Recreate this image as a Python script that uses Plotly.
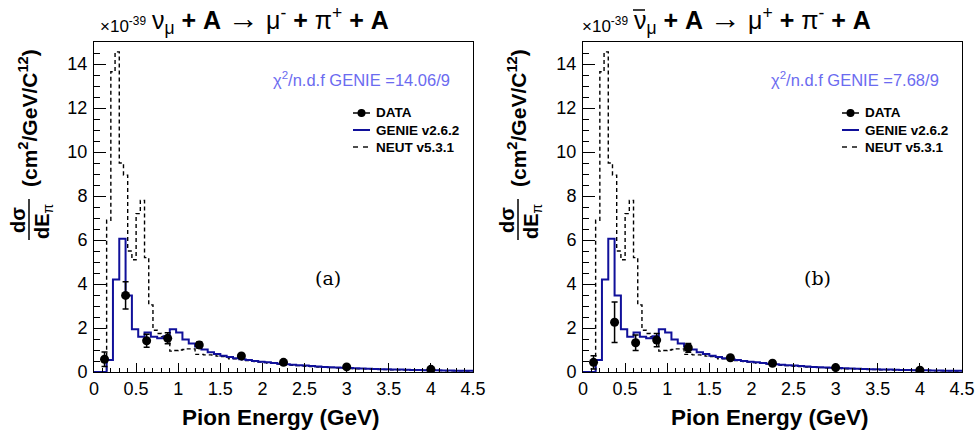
import plotly.graph_objects as go

# ---------------- data ----------------
# GENIE v2.6.2 prediction, 0.075 GeV bins from 0 to 4.5 GeV (units of 1e-39 cm^2/GeV/C^12)
genie_width = 0.075
genie_vals = [
    0.0, 0.0, 0.55, 4.2, 6.06, 3.48, 1.94, 1.6, 1.8, 1.6,
    1.53, 1.63, 1.94, 1.8, 1.48, 1.3, 1.16, 1.02, 0.9, 0.82,
    0.74, 0.68, 0.63, 0.58, 0.54, 0.5, 0.47, 0.44, 0.41, 0.38,
    0.35, 0.33, 0.31, 0.29, 0.27, 0.25, 0.23, 0.22, 0.2, 0.19,
    0.18, 0.17, 0.16, 0.15, 0.14, 0.13, 0.12, 0.115, 0.11, 0.1,
    0.095, 0.09, 0.085, 0.08, 0.075, 0.07, 0.065, 0.06, 0.058, 0.055,
]

# NEUT v5.3.1 prediction, 0.05 GeV bins from 0 to 4.5 GeV
neut_width = 0.05
neut_vals = [
    0.0, 0.0, 0.0, 6.9, 13.65, 14.55, 9.5, 8.95, 5.5, 5.1,
    7.2, 7.8, 5.2, 3.05, 1.9, 1.75, 1.6, 1.5, 0.95, 0.98,
    1.0, 1.02, 1.05, 1.05, 0.8, 0.8, 0.78, 0.78, 0.77, 0.72,
    0.7, 0.66, 0.6, 0.6, 0.58, 0.56, 0.52, 0.5, 0.47, 0.45,
    0.43, 0.41, 0.39, 0.37, 0.35, 0.33, 0.32, 0.3, 0.29, 0.27,
    0.26, 0.25, 0.24, 0.23, 0.22, 0.21, 0.2, 0.19, 0.18, 0.175,
    0.165, 0.16, 0.15, 0.145, 0.14, 0.13, 0.125, 0.12, 0.115, 0.11,
    0.105, 0.1, 0.095, 0.09, 0.088, 0.085, 0.08, 0.078, 0.075, 0.07,
    0.068, 0.065, 0.062, 0.06, 0.058, 0.055, 0.053, 0.05, 0.048, 0.046,
]

# Measured points (bin centres in GeV)
data_e = [0.125, 0.375, 0.625, 0.875, 1.25, 1.75, 2.25, 3.0, 4.0]
nu_vals = [0.58, 3.48, 1.42, 1.53, 1.23, 0.73, 0.44, 0.23, 0.12]
nu_errs = [0.33, 0.62, 0.30, 0.25, 0.15, 0.06, 0.04, 0.02, 0.02]
nubar_vals = [0.44, 2.26, 1.33, 1.45, 1.10, 0.65, 0.40, 0.20, 0.08]
nubar_errs = [0.30, 0.92, 0.35, 0.30, 0.20, 0.07, 0.05, 0.03, 0.02]

chi2_labels = ["14.06/9", "7.68/9"]
panel_tags = ["(a)", "(b)"]
legend_names = ["DATA", "GENIE v2.6.2", "NEUT v5.3.1"]
ARROW = "<span style='font-size:31px'>→</span>"
titles = [
    "ν<sub>μ</sub> <b>+ A</b> " + ARROW + " μ<sup>-</sup> <b>+</b> π<sup>+</sup> <b>+ A</b>",
    "ν<sub>μ</sub> <b>+ A</b> " + ARROW + " μ<sup>+</sup> <b>+</b> π<sup>-</sup> <b>+ A</b>",
]

W, H = 977, 436
FONT = "Liberation Sans, Arial, Helvetica, sans-serif"
GENIE_COLOR = "#10109a"
CHI_COLOR = "#6b6bf0"


def step_xy(width, vals):
    xs = [round(i * width, 6) for i in range(len(vals) + 1)]
    ys = list(vals) + [vals[-1]]
    return xs, ys


def px(x):
    return x / W


def py(y):
    return 1 - y / H


fig = go.Figure()

panels = [
    dict(xa="x", ya="y", vals=nu_vals, errs=nu_errs, off=0),
    dict(xa="x2", ya="y2", vals=nubar_vals, errs=nubar_errs, off=489),
]

for p in panels:
    gx, gy = step_xy(genie_width, genie_vals)
    nx, ny = step_xy(neut_width, neut_vals)
    fig.add_trace(go.Scatter(
        x=nx, y=ny, mode="lines", line=dict(color="black", width=1.4, dash="4px,3px", shape="hv"),
        name=legend_names[2], xaxis=p["xa"], yaxis=p["ya"], hoverinfo="skip"))
    fig.add_trace(go.Scatter(
        x=gx, y=gy, mode="lines", line=dict(color=GENIE_COLOR, width=2, shape="hv"),
        name=legend_names[1], xaxis=p["xa"], yaxis=p["ya"], hoverinfo="skip"))
    fig.add_trace(go.Scatter(
        x=data_e, y=p["vals"], mode="markers",
        marker=dict(color="black", size=9, symbol="circle"),
        error_y=dict(type="data", array=p["errs"], color="black", thickness=1.5, width=3),
        name=legend_names[0], xaxis=p["xa"], yaxis=p["ya"]))

axis_common = dict(
    showgrid=False, zeroline=False, showline=True, mirror=True, automargin=False,
    linecolor="black", linewidth=1, ticks="inside", tickcolor="black",
    tickfont=dict(family=FONT, size=18, color="black"),
)

xdoms = [[px(94), px(473)], [px(583), px(962)]]
ydom = [py(372), py(42)]

for i, key in enumerate(["", "2"]):
    fig.update_layout(**{
        "xaxis" + key: dict(
            domain=xdoms[i], range=[0, 4.5], anchor="y" + key,
            tick0=0, dtick=0.5, ticklen=9, tickwidth=1,
            minor=dict(dtick=0.1, ticks="inside", ticklen=4.5, tickcolor="black"),
            **axis_common),
        "yaxis" + key: dict(
            domain=ydom, range=[0, 15], anchor="x" + key,
            tick0=0, dtick=2, ticklen=12, tickwidth=1, ticklabelstandoff=2,
            minor=dict(dtick=0.5, ticks="inside", ticklen=6, tickcolor="black"),
            **axis_common),
    })

# left edge of the neutrino symbol in each title
nu_left = [150, 632]

annotations = []
shapes = []


def text(t, x, y, size, xanchor="center", color="black", family=FONT, angle=0, yanchor="middle"):
    annotations.append(dict(
        text=t, x=px(x), y=py(y), xref="paper", yref="paper", textangle=angle,
        xanchor=xanchor, yanchor=yanchor, showarrow=False,
        font=dict(family=family, size=size, color=color)))


def seg(x0, y0, x1, y1, color="black", width=1.5, dash="solid"):
    shapes.append(dict(
        type="line", xref="paper", yref="paper",
        x0=px(x0), x1=px(x1), y0=py(y0), y1=py(y1),
        line=dict(color=color, width=width, dash=dash)))


for i, p in enumerate(panels):
    o = p["off"]
    # exponent of the y scale and reaction title
    text("×10<sup>-39</sup>", nu_left[i] - 2, 38, 17, xanchor="right", yanchor="bottom")
    text(titles[i], nu_left[i], 20, 25, xanchor="left")
    # chi2 label
    text("χ<sup>2</sup>/n.d.f GENIE =" + chi2_labels[i], 452 + o, 79, 16.5,
         xanchor="right", color=CHI_COLOR)
    # panel tag
    text(panel_tags[i], 328 + o, 278, 19, family="DejaVu Serif, Liberation Serif, serif")
    # x-axis title
    text("<b>Pion Energy (GeV)</b>", 281 + o, 417, 22.5)
    # y-axis title: units and d sigma / dE_pi fraction
    text("<b>(cm<sup>2</sup>/GeV/C<sup>12</sup>)</b>", 28 + o, 118, 21, angle=-90)
    text("<b>dσ</b>", 18 + o, 220, 20, angle=-90)
    text("<b>dE</b><sub>π</sub>", 43 + o, 221, 20, angle=-90)
    seg(29 + o, 240, 29 + o, 199)

    # legend box
    lx0, lx1 = 353 + o, 370 + o
    rows = [113, 130, 147]
    seg(lx0, rows[0], lx1, rows[0], width=1.5)
    seg((lx0 + lx1) / 2, rows[0] - 4, (lx0 + lx1) / 2, rows[0] + 4, width=1.5)
    shapes.append(dict(
        type="circle", xref="paper", yref="paper",
        x0=px(357.5 + o), x1=px(365.5 + o), y0=py(rows[0] + 4), y1=py(rows[0] - 4),
        fillcolor="black", line=dict(color="black", width=0)))
    seg(lx0, rows[1], lx1, rows[1], color=GENIE_COLOR, width=2)
    seg(lx0, rows[2], lx0 + 5, rows[2], width=1.4)
    seg(lx0 + 10, rows[2], lx0 + 15, rows[2], width=1.4)
    for name, ry in zip(legend_names, rows):
        text("<b>" + name + "</b>", 374 + o, ry, 13.5, xanchor="left")

# bar over the antineutrino symbol
seg(nu_left[1] + 1, 10, nu_left[1] + 13, 10)

fig.update_layout(
    width=W, height=H, margin=dict(l=0, r=0, t=0, b=0),
    paper_bgcolor="white", plot_bgcolor="white",
    showlegend=False,
    annotations=annotations, shapes=shapes,
)

fig.write_html("out.html")
